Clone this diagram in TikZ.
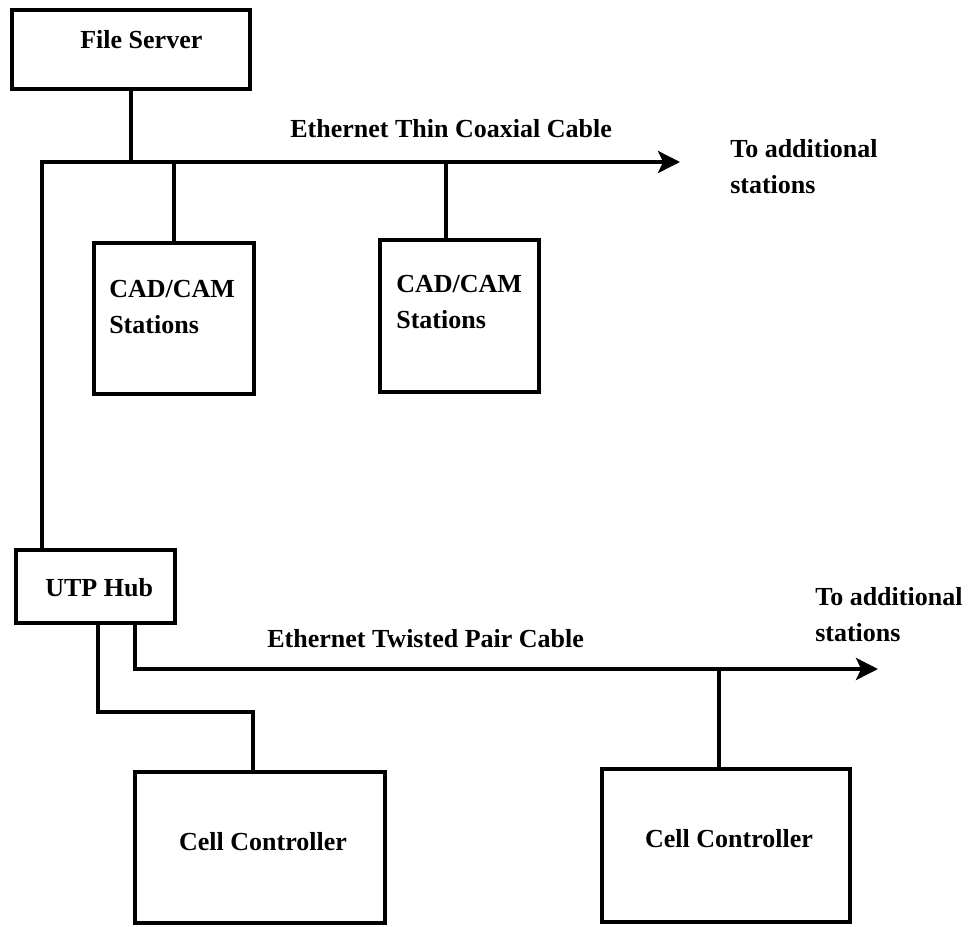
\documentclass[tikz,border=0pt]{standalone}
\usepackage{fontspec}
\setmainfont{Liberation Serif}
\usetikzlibrary{arrows.meta,calc}

\tikzset{
  box/.style={draw, line width=1mm, inner sep=0pt},
  cable/.style={line width=1mm},
  feed/.style={cable, -{Stealth[length=5.5mm,width=5.5mm,inset=1.3mm]}},
  lbl/.style={font=\fontsize{18.5}{25}\selectfont\bfseries, inner sep=0pt, align=left},
}

\begin{document}
\begin{tikzpicture}[x=0.025cm, y=-0.025cm]
    \useasboundingbox (0,0) rectangle (977,926);

    % server and stations on the coax
    \node[box, minimum width=59.5mm, minimum height=19.75mm] (fs) at (131,49.5) {};
    \node[box, minimum width=40mm, minimum height=37.75mm] (cad1) at (174,318.5) {};
    \node[box, minimum width=39.75mm, minimum height=38mm] (cad2) at (459.5,316) {};

    % hub and cell controllers on the twisted pair
    \node[box, minimum width=39.75mm, minimum height=18.25mm] (hub) at (95.5,586.5) {};
    \node[box, minimum width=62.5mm, minimum height=37.75mm] (cc1) at (260,847.5) {};
    \node[box, minimum width=62mm, minimum height=38.25mm] (cc2) at (726,845.5) {};

    % texts (two-line ones sit on their last baseline)
    \node[lbl, anchor=base west] (fstxt) at (80,49) {File Server};
    \node[lbl, anchor=base west] (cad1txt) at (109,333) {CAD/CAM\\Stations};
    \node[lbl, anchor=base west] (cad2txt) at (396,328) {CAD/CAM\\Stations};
    \node[lbl, anchor=base west] (hubtxt) at (45,596) {UTP Hub};
    \node[lbl, anchor=base] (cc1txt) at (263,850) {Cell Controller};
    \node[lbl, anchor=base] (cc2txt) at (729,847) {Cell Controller};
    \node[lbl, anchor=base west] (coaxtxt) at (290,138) {Ethernet Thin Coaxial Cable};
    \node[lbl, anchor=base west] (tptxt) at (267,647) {Ethernet Twisted Pair Cable};
    \node[lbl, anchor=base west] (moreA) at (730,193) {To additional\\stations};
    \node[lbl, anchor=base west] (moreB) at (815,641) {To additional\\stations};

    % thin coax
    \coordinate (coaxL) at (42,162);
    \coordinate (coaxR) at (680,162);
    \coordinate (tap2) at (446,162);
    \draw[feed] (hub.north -| coaxL) -- (coaxL) -- (coaxR);
    \draw[cable] (fs.south) -- (fs.south |- coaxL);
    \draw[cable] (cad1.north) -- (cad1.north |- coaxL);
    \draw[cable] (tap2) -- (tap2 |- cad2.north);

    % twisted pair
    \coordinate (tpL) at (135,669);
    \coordinate (tpR) at (878,669);
    \coordinate (tap3) at (719,669);
    \coordinate (bend) at (98,712);
    \coordinate (drop) at (253,712);
    \draw[feed] (hub.south -| tpL) -- (tpL) -- (tpR);
    \draw[cable] (tap3) -- (tap3 |- cc2.north);
    \draw[cable] (hub.south -| bend) -- (bend) -- (drop) -- (drop |- cc1.north);
\end{tikzpicture}
\end{document}
